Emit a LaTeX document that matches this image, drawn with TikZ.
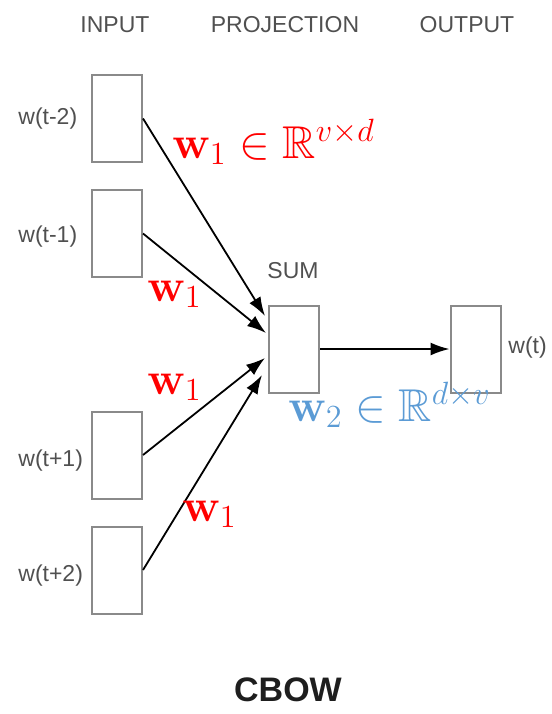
\RequirePackage{fix-cm}
\documentclass[tikz,border=0pt]{standalone}
\usepackage{amssymb}
\usepackage[no-math]{fontspec}
\setmainfont{Liberation Sans}
\usetikzlibrary{arrows.meta,calc}

\definecolor{boxgray}{HTML}{8A8A8A}
\definecolor{labelgray}{HTML}{505050}
\definecolor{titleblack}{HTML}{1E1E1E}
\definecolor{wred}{HTML}{FF0000}
\definecolor{wblue}{HTML}{5B9BD5}

\begin{document}
\begin{tikzpicture}[x=0.5pt,y=-0.5pt,
  wordbox/.style={draw=boxgray, line width=1pt, minimum width=25pt,
    minimum height=43.5pt, inner sep=0pt},
  graytext/.style={text=labelgray, font=\fontsize{11.5}{13}\selectfont, inner sep=0pt},
  arr/.style={-{Latex[length=9.5pt,width=6.5pt]}, line width=0.9pt, black},
  mathlabel/.style={font=\fontsize{23}{27}\selectfont, inner sep=0pt, anchor=base west}]

\useasboundingbox (0,0) rectangle (552,714);

% column headings
\node[graytext] (hin)   at (115,25) {INPUT};
\node[graytext] (hproj) at (285,25) {PROJECTION};
\node[graytext] (hout)  at (467,25) {OUTPUT};

% context word vectors
\node[wordbox] (tm2) at (117,118.5) {};
\node[wordbox] (tm1) at (117,233.5) {};
\node[wordbox] (tp1) at (117,455) {};
\node[wordbox] (tp2) at (117,570) {};

\node[graytext, anchor=west] (ltm2) at (18,119) {w(t-2)};
\node[graytext, anchor=west] (ltm1) at (18,237) {w(t-1)};
\node[graytext, anchor=west] (ltp1) at (18,461) {w(t+1)};
\node[graytext, anchor=west] (ltp2) at (18,576) {w(t+2)};

% projection and output
\node[wordbox] (sum) at (294,349) {};
\node[graytext] (lsum) at (293,271) {SUM};
\node[wordbox] (out) at (475.5,349) {};
\node[graytext, anchor=west] (lout) at (508,348) {w(t)};

% arrow tips along the left side of SUM
\coordinate (e1) at ($(sum.west)+(-3,-33)$);
\coordinate (e2) at ($(sum.west)+(-2,-16)$);
\coordinate (e3) at ($(sum.west)+(-3,9)$);
\coordinate (e4) at ($(sum.west)+(-6,26)$);

\draw[arr] (tm2.east) -- (e1);
\draw[arr] (tm1.east) -- (e2);
\draw[arr] (tp1.east) -- (e3);
\draw[arr] (tp2.east) -- (e4);
\draw[arr] (sum.east) -- (out.west);

% weight matrices
\node[mathlabel, text=wred] (w1a) at (172,158) {$\mathbf{w}_1 \in \mathbb{R}^{v\times d}$};
\node[mathlabel, text=wred] (w1b) at (147,301) {$\mathbf{w}_1$};
\node[mathlabel, text=wred] (w1c) at (147,394) {$\mathbf{w}_1$};
\node[mathlabel, text=wred] (w1d) at (182,521) {$\mathbf{w}_1$};
\node[mathlabel, text=wblue] (w2) at (288,421) {$\mathbf{w}_2 \in \mathbb{R}^{d\times v}$};

% model name
\node[text=titleblack, font=\fontsize{17}{20}\selectfont\bfseries, inner sep=0pt] (cbow) at (288,690) {CBOW};
\end{tikzpicture}
\end{document}
